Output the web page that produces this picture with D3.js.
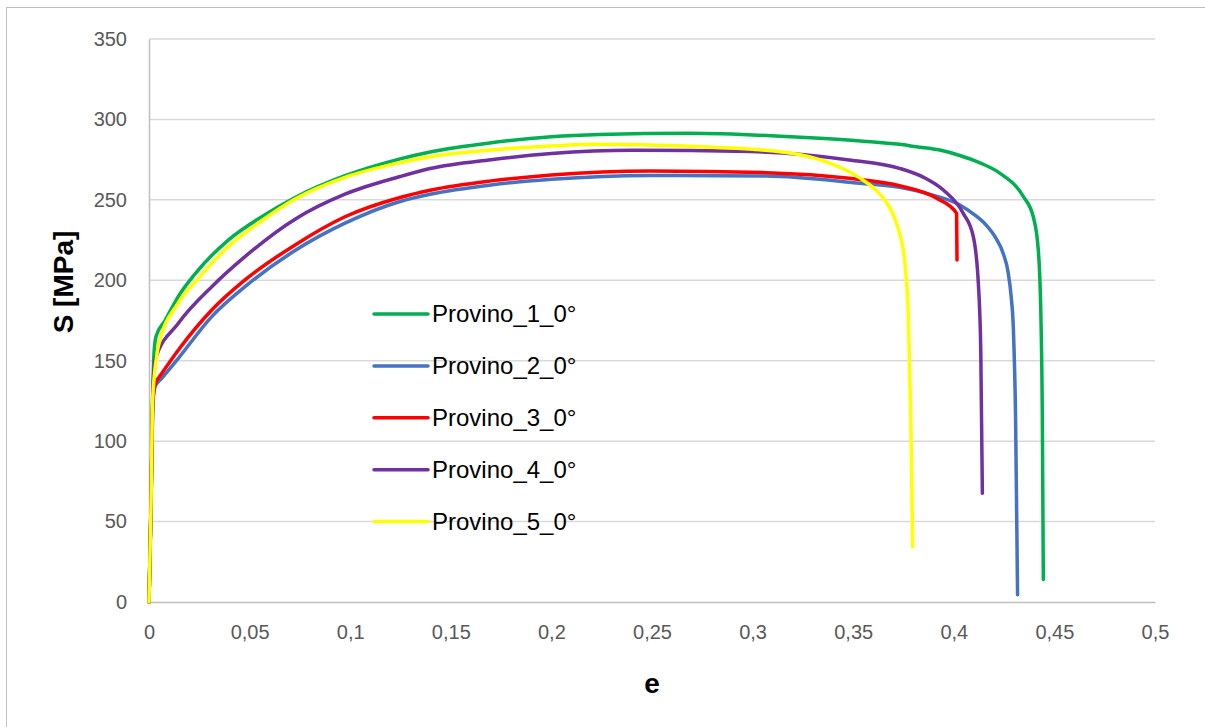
<!DOCTYPE html>
<html>
<head>
<meta charset="utf-8">
<script src="https://cdn.jsdelivr.net/npm/d3@7"></script>
<style>
  body { margin: 0; background: #fff; }
  text { font-family: "Liberation Sans", Arial, sans-serif; }
</style>
</head>
<body>
<div class="chart"></div>
<script>
// values: [e, S]
var provino1 = [[0,0],[0.001,60],[0.0018,125],[0.0025,155],[0.0035,165],[0.008,175],[0.0146,190],[0.0229,204],
  [0.0394,225],[0.056,239.5],[0.0726,251.5],[0.0974,265],[0.1248,275.5],[0.1397,279.8],[0.17,285.5],[0.2,289.2],
  [0.224,290.6],[0.269,291.4],[0.3236,288.9],[0.355,286.5],[0.373,284.5],[0.3815,283],[0.393,281],[0.403,277.6],
  [0.413,273],[0.423,266.5],[0.4346,252],[0.4395,239.5],[0.442,218.8],[0.4433,177.4],[0.444,115.2],[0.4445,14]];
var provino2 = [[0,0],[0.001,60],[0.0018,118],[0.0025,133],[0.0063,139],[0.0146,151.5],[0.0312,177.4],[0.0477,196],
  [0.0726,218.5],[0.0974,235.5],[0.1248,249],[0.1397,253.5],[0.17,259.3],[0.2,262.8],[0.249,265.2],[0.307,264.8],
  [0.3534,260.3],[0.373,257.8],[0.3865,254],[0.403,246.8],[0.41,241],[0.4163,234],[0.421,226],[0.4246,216.5],
  [0.427,205],[0.4285,190],[0.4296,170],[0.4307,115.2],[0.4317,4.5]];
var provino3 = [[0,0],[0.001,60],[0.0018,122],[0.0035,137],[0.0046,139],[0.0146,156.7],[0.0312,181.5],[0.0477,200.2],
  [0.0726,222],[0.0974,239.5],[0.1248,251.5],[0.1397,256],[0.17,261.8],[0.2,265.5],[0.249,268],[0.307,266.9],
  [0.348,263.4],[0.373,258.8],[0.3915,251],[0.4014,241.6],[0.4016,212.6]];
var provino4 = [[0,0],[0.001,60],[0.0018,125],[0.003,150.4],[0.0146,173.3],[0.0312,196],[0.0477,214.7],[0.0726,238],
  [0.0974,253.5],[0.1248,264.5],[0.1397,269.5],[0.17,275],[0.2,278.8],[0.2406,280.8],[0.2987,280],[0.348,274.8],
  [0.373,269.6],[0.385,264],[0.3948,256.1],[0.4047,241.6],[0.4097,227.1],[0.4122,198.1],[0.4134,156.7],[0.4142,67.6]];
var provino5 = [[0,0],[0.001,60],[0.0018,125],[0.0038,152.5],[0.0046,158.7],[0.0146,186],[0.0237,200],[0.0403,222],
  [0.056,237],[0.0726,250.5],[0.0974,264],[0.1248,273.1],[0.1397,276.8],[0.17,281],[0.2,283.5],[0.224,284.5],
  [0.2739,283],[0.3,281.5],[0.3236,278],[0.337,273.5],[0.348,267.5],[0.3534,263.5],[0.36,257.5],[0.365,251],
  [0.3695,242],[0.3724,232],[0.3757,210.6],[0.3774,177.4],[0.3786,115.2],[0.3796,34.4]];

var seriesNames = ["Provino_1_0°", "Provino_2_0°", "Provino_3_0°", "Provino_4_0°", "Provino_5_0°"];
var seriesData = [provino1, provino2, provino3, provino4, provino5];
var seriesColors = ["#00b050", "#4472c4", "#ff0000", "#7030a0", "#ffff00"];
var xTicks = [0, 0.05, 0.1, 0.15, 0.2, 0.25, 0.3, 0.35, 0.4, 0.45, 0.5];
var yTicks = [0, 50, 100, 150, 200, 250, 300, 350];

var w = 1205;
var h = 727;
var plotLeft = 149, plotTop = 39, plotRight = 1155, plotBottom = 602;

var svg = d3.select(".chart")
            .append("svg")
            .attr("width", w)
            .attr("height", h);

// chart border (only left/top fall inside the window)
svg.append("rect")
   .attr("x", 6.5).attr("y", 7.5)
   .attr("width", 1400).attr("height", 900)
   .attr("fill", "none")
   .attr("stroke", "#bfbfbf")
   .attr("stroke-width", 1);

var x = d3.scaleLinear().domain([0, 0.5]).range([plotLeft, plotRight]);
var y = d3.scaleLinear().domain([0, 350]).range([plotBottom, plotTop]);

var comma = d3.formatLocale({decimal: ",", thousands: ".", grouping: [3], currency: ["", "€"]});
var fmtX = function(d) { return comma.format("~g")(d); };

// gridlines
svg.append("g")
   .selectAll("line")
   .data(yTicks.filter(function(d) { return d > 0; }))
   .enter()
   .append("line")
   .attr("x1", plotLeft).attr("x2", plotRight)
   .attr("y1", function(d) { return y(d); })
   .attr("y2", function(d) { return y(d); })
   .attr("stroke", "#d9d9d9")
   .attr("stroke-width", 1.5);

// axes
var yAxis = svg.append("g")
   .attr("transform", "translate(" + plotLeft + ",0)")
   .call(d3.axisLeft(y).tickValues(yTicks).tickSize(0).tickPadding(22));
var xAxis = svg.append("g")
   .attr("transform", "translate(0," + plotBottom + ")")
   .call(d3.axisBottom(x).tickValues(xTicks).tickFormat(fmtX).tickSize(0).tickPadding(23));

[yAxis, xAxis].forEach(function(a) {
  a.select(".domain").attr("stroke", "#bfbfbf").attr("stroke-width", 1.5);
  a.selectAll("text")
   .attr("fill", "#595959")
   .style("font-size", "20px")
   .style("font-family", "'Liberation Sans', Arial, sans-serif");
});

// curves
var line = d3.line()
             .x(function(d) { return x(d[0]); })
             .y(function(d) { return y(d[1]); })
             .curve(d3.curveMonotoneX);

svg.append("g")
   .selectAll("path")
   .data(seriesData)
   .enter()
   .append("path")
   .attr("d", line)
   .attr("fill", "none")
   .attr("stroke", function(d, i) { return seriesColors[i]; })
   .attr("stroke-width", 3.5)
   .attr("stroke-linejoin", "round")
   .attr("stroke-linecap", "round");

// legend
var legend = svg.append("g")
   .selectAll("g")
   .data(seriesNames)
   .enter()
   .append("g")
   .attr("transform", function(d, i) { return "translate(374," + (314 + i * 51.9) + ")"; });

legend.append("line")
   .attr("x1", 0).attr("x2", 54)
   .attr("stroke", function(d, i) { return seriesColors[i]; })
   .attr("stroke-width", 3.5)
   .attr("stroke-linecap", "round");

legend.append("text")
   .attr("x", 58)
   .attr("dy", "0.35em")
   .attr("fill", "#000")
   .style("font-size", "24px")
   .text(function(d) { return d; });

// axis titles
svg.append("text")
   .attr("x", (plotLeft + plotRight) / 2)
   .attr("y", 683)
   .attr("dy", "0.35em")
   .attr("text-anchor", "middle")
   .style("font-size", "28px")
   .style("font-weight", "bold")
   .text("e");

svg.append("text")
   .attr("transform", "translate(63," + 282 + ") rotate(-90)")
   .attr("dy", "0.35em")
   .attr("text-anchor", "middle")
   .style("font-size", "28px")
   .style("font-weight", "bold")
   .text("S [MPa]");
</script>
</body>
</html>
